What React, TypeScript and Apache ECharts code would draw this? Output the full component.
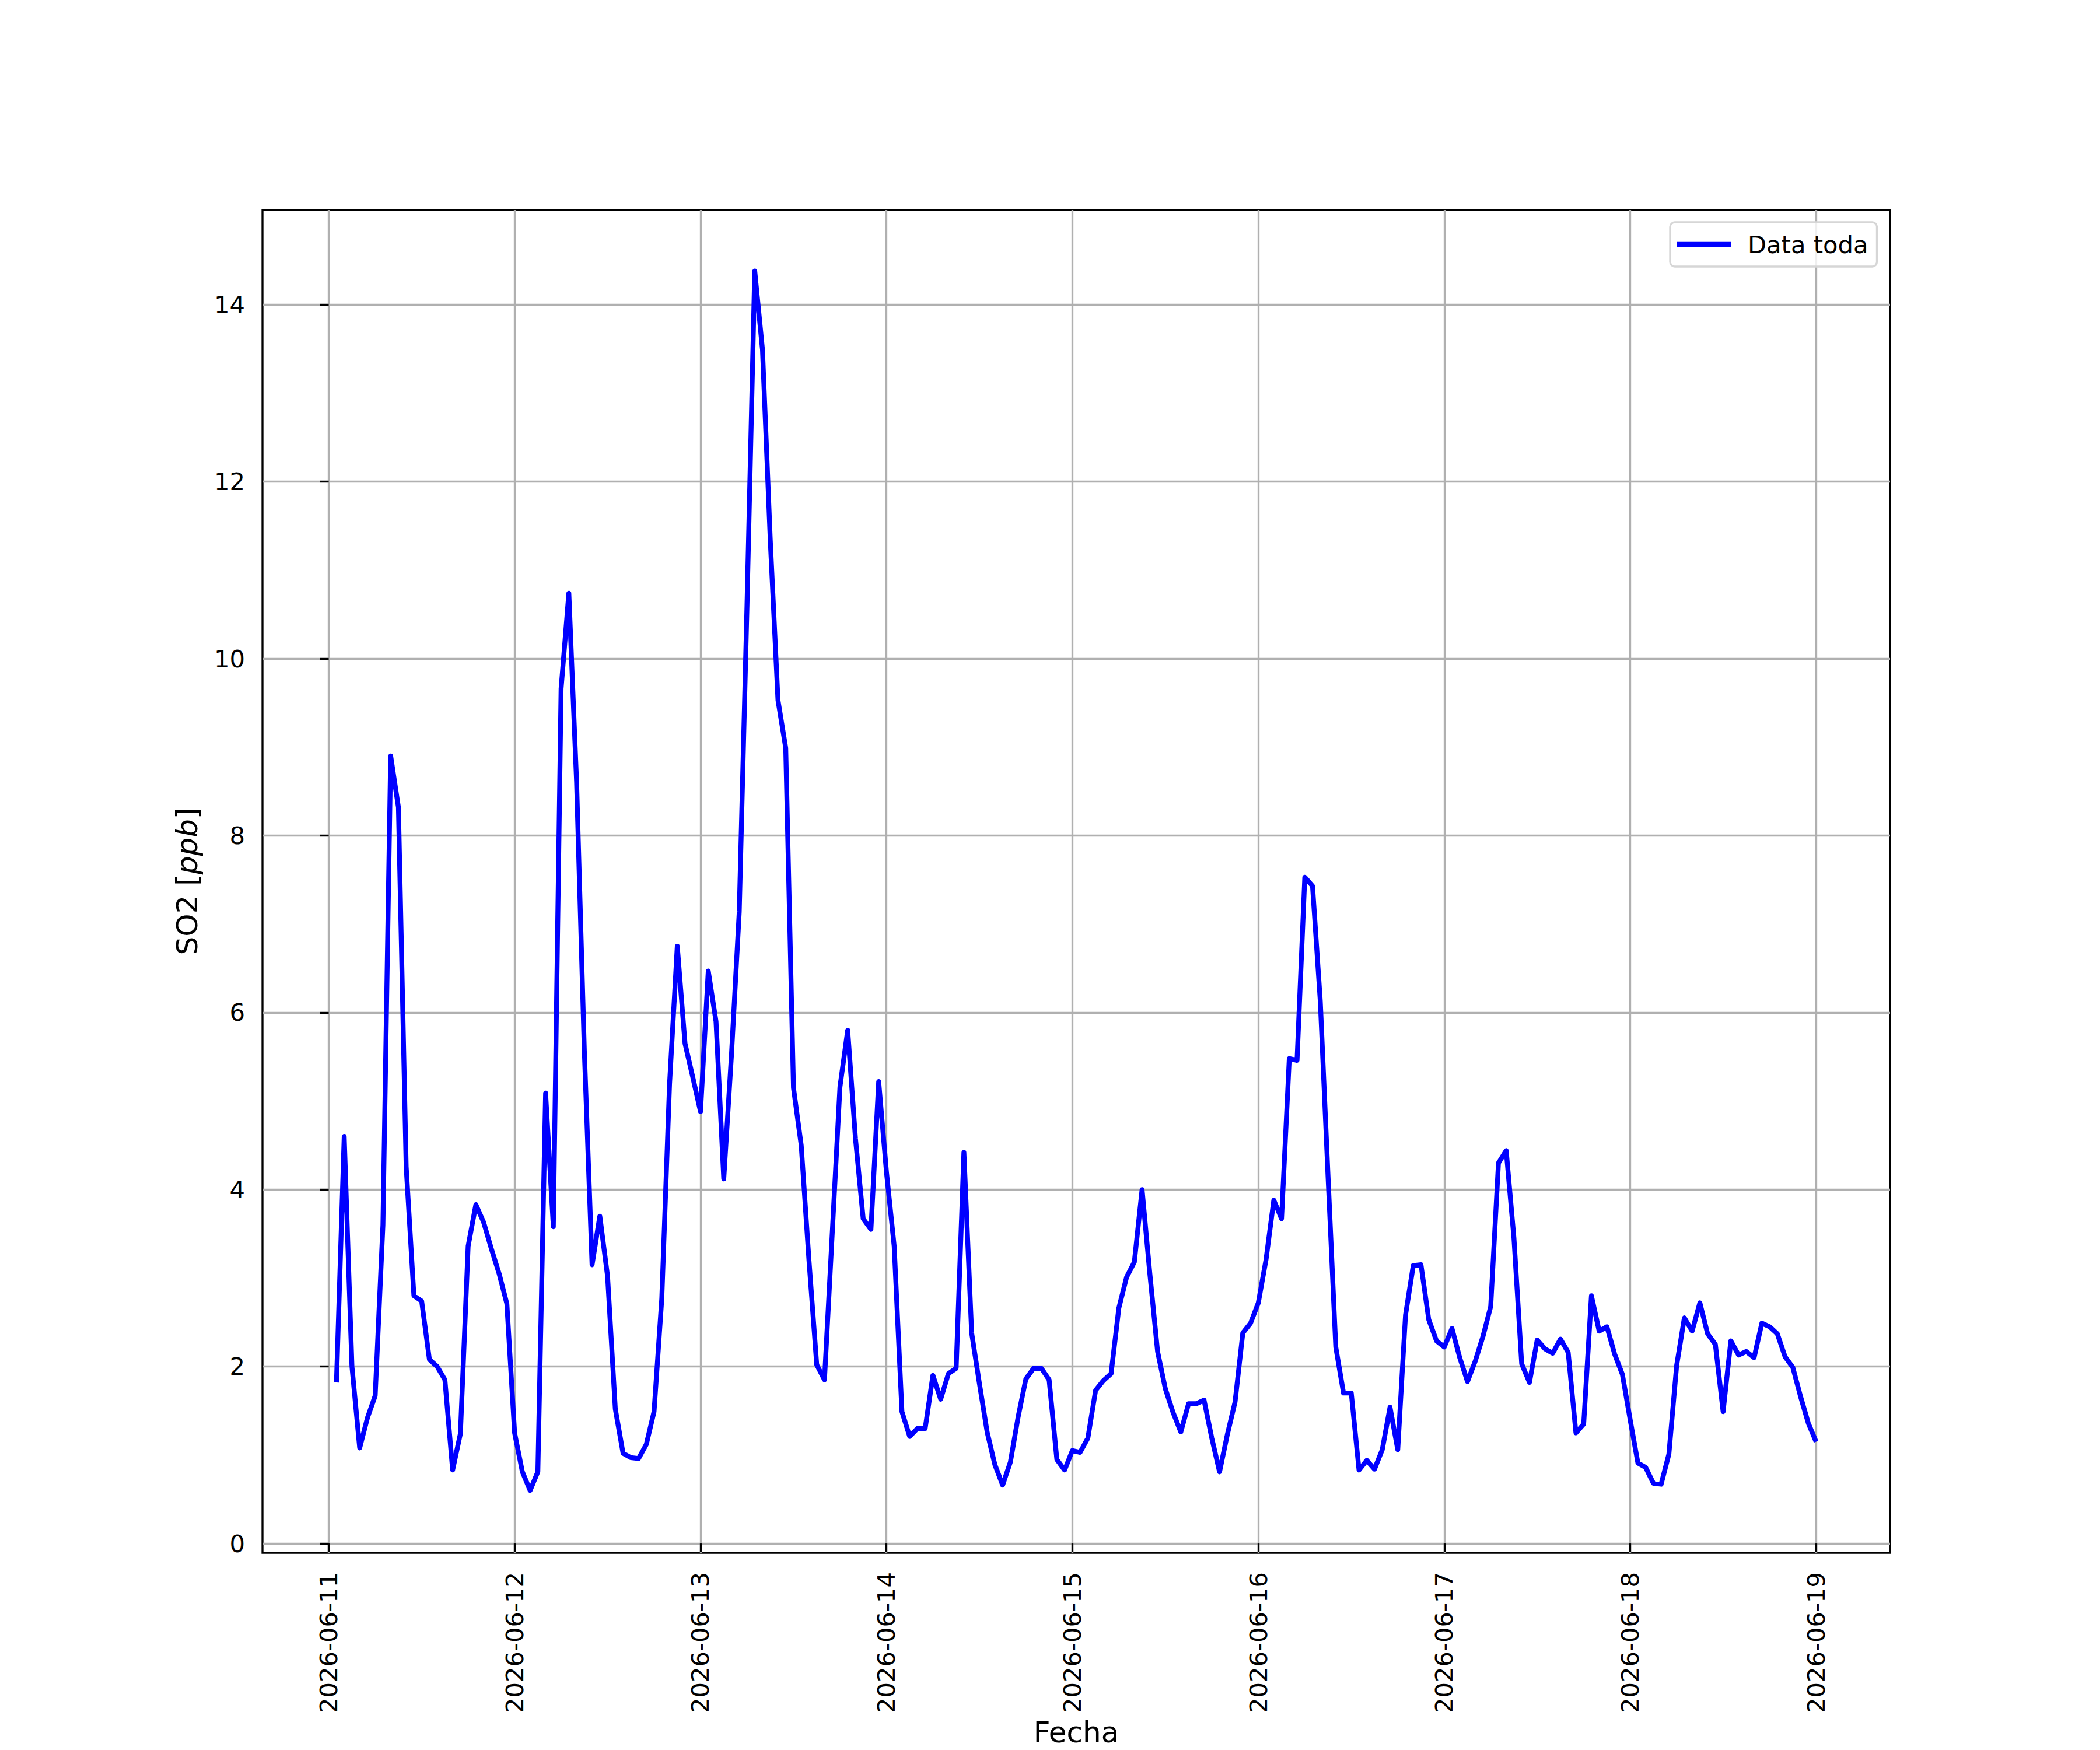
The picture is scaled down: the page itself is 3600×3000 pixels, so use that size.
import React, { useEffect, useRef } from "react";
import * as echarts from "echarts";

// Tick labels (one per day, at 00:00)
const dayLabels = [
  "2026-06-11", "2026-06-12", "2026-06-13", "2026-06-14", "2026-06-15",
  "2026-06-16", "2026-06-17", "2026-06-18", "2026-06-19",
];
const yTicks = [0, 2, 4, 6, 8, 10, 12, 14];

// Hourly SO2 [ppb], each array = 01:00 .. 24:00 of that day
const day0611 = [1.82, 4.6, 2.0, 1.08, 1.42, 1.67, 3.6, 8.9, 8.32, 4.26, 2.8, 2.74, 2.08, 2.0, 1.85, 0.83, 1.24, 3.36, 3.83, 3.63, 3.33, 3.05, 2.71, 1.25];
const day0612 = [0.81, 0.6, 0.81, 5.09, 3.58, 9.66, 10.74, 8.61, 5.57, 3.15, 3.7, 3.02, 1.52, 1.02, 0.97, 0.96, 1.12, 1.49, 2.77, 5.19, 6.75, 5.65, 5.27, 4.88];
const day0613 = [6.47, 5.9, 4.12, 5.53, 7.14, 10.6, 14.38, 13.49, 11.35, 9.53, 8.99, 5.15, 4.5, 3.2, 2.02, 1.85, 3.5, 5.16, 5.8, 4.58, 3.67, 3.55, 5.22, 4.2];
const day0614 = [3.36, 1.49, 1.21, 1.3, 1.3, 1.9, 1.63, 1.92, 1.98, 4.42, 2.38, 1.81, 1.26, 0.89, 0.66, 0.92, 1.43, 1.86, 1.98, 1.98, 1.85, 0.95, 0.83, 1.05];
const day0615 = [1.03, 1.19, 1.73, 1.84, 1.92, 2.66, 3.01, 3.18, 4.0, 3.05, 2.17, 1.75, 1.48, 1.26, 1.58, 1.58, 1.62, 1.19, 0.81, 1.23, 1.6, 2.38, 2.49, 2.72];
const day0616 = [3.21, 3.88, 3.67, 5.48, 5.46, 7.53, 7.43, 6.13, 4.15, 2.22, 1.7, 1.7, 0.83, 0.94, 0.84, 1.06, 1.54, 1.06, 2.58, 3.14, 3.15, 2.53, 2.29, 2.22];
const day0617 = [2.43, 2.1, 1.83, 2.06, 2.34, 2.68, 4.3, 4.44, 3.45, 2.03, 1.82, 2.3, 2.2, 2.15, 2.31, 2.16, 1.25, 1.35, 2.8, 2.4, 2.45, 2.14, 1.91, 1.4];
const day0618 = [0.91, 0.86, 0.68, 0.67, 1.01, 2.01, 2.55, 2.4, 2.72, 2.37, 2.25, 1.49, 2.29, 2.13, 2.17, 2.1, 2.49, 2.45, 2.37, 2.11, 1.99, 1.66, 1.36, 1.15];

const so2 = [...day0611, ...day0612, ...day0613, ...day0614, ...day0615, ...day0616, ...day0617, ...day0618];
// hours since 2026-06-11 00:00
const hours = so2.map((_, i) => i + 1);
const xTickHours = dayLabels.map((_, i) => i * 24);

const FONT = "DejaVu Sans";
const FS = 41.67; // 10 pt at 300 dpi
const FS_LABEL = 50; // 12 pt at 300 dpi
const LINE_W = 8.33; // 2 pt at 300 dpi

export default function App() {
  const ref = useRef<HTMLDivElement>(null);
  useEffect(() => {
    if (!ref.current) return;
    const chart = echarts.init(ref.current, undefined, { renderer: "svg" });
    const hMin = hours[0];
    const hMax = hours[hours.length - 1];
    const pad = (hMax - hMin) * 0.05;
    chart.setOption({
      animation: false,
      backgroundColor: "#ffffff",
      textStyle: { fontFamily: FONT },
      grid: {
        left: 450,
        top: 360,
        width: 2790,
        height: 2310,
        show: true,
        borderColor: "#000000",
        borderWidth: 3.33,
        backgroundColor: "transparent",
      },
      legend: {
        show: true,
        left: 2863,
        top: 381,
        orient: "horizontal",
        padding: [17, 15, 17, 12],
        itemWidth: 92,
        itemHeight: LINE_W,
        backgroundColor: "rgba(255,255,255,0.8)",
        borderColor: "#d6d6d6",
        borderWidth: 3.33,
        borderRadius: 8,
        textStyle: { fontSize: FS, color: "#000000", fontFamily: FONT, padding: [0, 0, 0, 24] },
        data: [{ name: "Data toda", icon: "rect", itemStyle: { color: "#0000ff" } }],
      },
      xAxis: {
        type: "value",
        min: hMin - pad,
        max: hMax + pad,
        axisLine: { show: false },
        axisTick: {
          show: true,
          length: 14.6,
          customValues: xTickHours,
          lineStyle: { color: "#000000", width: 3.33 },
        },
        axisLabel: {
          customValues: xTickHours,
          rotate: 90,
          margin: 33,
          fontSize: FS,
          color: "#000000",
          fontFamily: FONT,
          formatter: (v: number) => dayLabels[Math.round(v / 24)] ?? "",
        },
        splitLine: { show: true, lineStyle: { color: "#b0b0b0", width: 3.33 } },
        name: "Fecha",
        nameLocation: "middle",
        nameGap: 282,
        nameTextStyle: { fontSize: FS_LABEL, color: "#000000", fontFamily: FONT },
      },
      yAxis: {
        type: "value",
        min: -0.105,
        max: 15.07,
        axisLine: { show: false },
        axisTick: {
          show: true,
          length: 14.6,
          customValues: yTicks,
          lineStyle: { color: "#000000", width: 3.33 },
        },
        axisLabel: {
          customValues: yTicks,
          margin: 30,
          fontSize: FS,
          color: "#000000",
          fontFamily: FONT,
        },
        splitLine: { show: true, lineStyle: { color: "#b0b0b0", width: 3.33 } },
        name: "{n|SO2 [}{i|ppb}{n|]}",
        nameLocation: "middle",
        nameRotate: 90,
        nameGap: 104,
        nameTextStyle: {
          fontSize: FS_LABEL,
          color: "#000000",
          fontFamily: FONT,
          rich: {
            n: { fontSize: FS_LABEL, fontFamily: FONT, color: "#000000" },
            i: { fontSize: FS_LABEL, fontFamily: FONT, fontStyle: "italic", color: "#000000" },
          },
        },
      },
      series: [
        {
          type: "line",
          name: "Data toda",
          data: hours.map((h, i) => [h, so2[i]]),
          symbol: "none",
          showSymbol: false,
          color: "#0000ff",
          lineStyle: { color: "#0000ff", width: LINE_W, join: "round" },
          emphasis: { disabled: true },
          z: 3,
        },
      ],
    });
    return () => chart.dispose();
  }, []);
  return (
    <div
      ref={ref}
      style={{ position: "absolute", left: 0, top: 0, width: 3600, height: 3000 }}
    />
  );
}
